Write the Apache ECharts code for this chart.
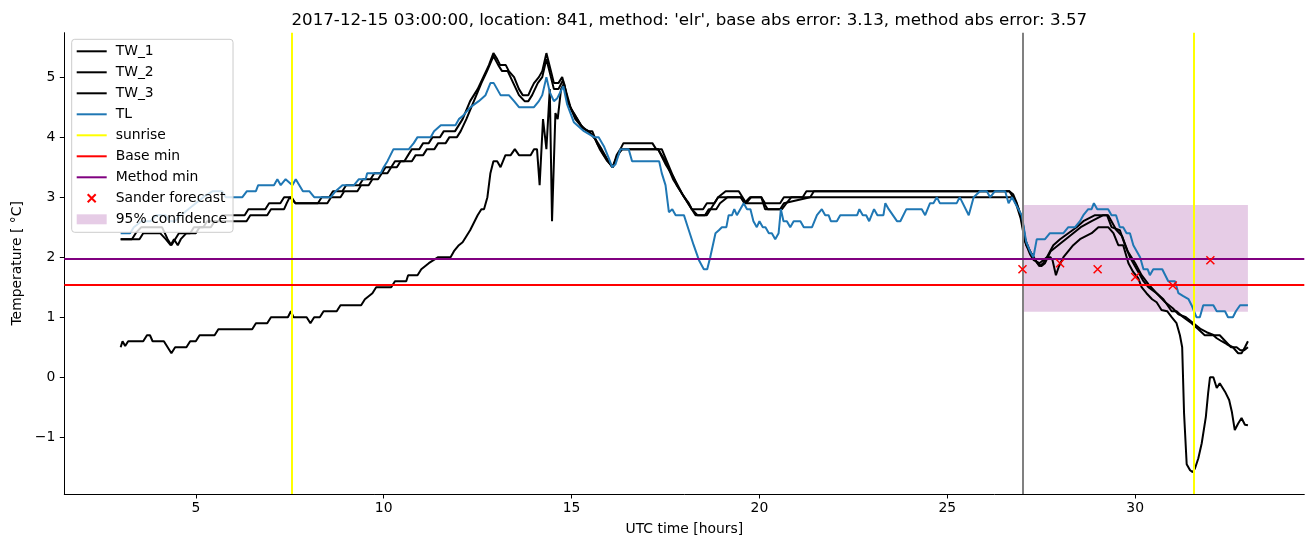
<!DOCTYPE html>
<html><head><meta charset="utf-8">
<script src="https://cdn.jsdelivr.net/npm/echarts@6/dist/echarts.min.js"></script>
<style>html,body{margin:0;padding:0;background:#fff}#c{width:1313px;height:547px}</style>
</head><body><div id="c"></div>
<script>
// ---------------- DATA ----------------
const tw1Hours = [3.0,3.3,3.4,3.55,4.1,4.25,4.35,4.45,4.55,4.85,4.95,5.2,5.3,5.6,5.7,6.3,6.4,6.85,6.95,7.25,7.35,7.55,7.65,8.25,8.35,8.55,8.65,8.9,9.0,9.35,9.45,9.65,9.75,9.95,10.05,10.2,10.3,10.55,10.65,10.75,10.95,11.05,11.2,11.3,11.5,11.6,11.9,12.0,12.1,12.3,12.5,12.65,12.8,12.92,13.02,13.1,13.25,13.33,13.47,13.6,13.7,13.85,13.92,14.0,14.13,14.22,14.33,14.45,14.53,14.65,14.75,14.88,14.97,15.06,15.25,15.42,15.55,15.68,15.86,16.03,16.1,16.2,16.3,16.38,17.15,17.25,17.4,17.6,17.8,18.0,18.12,18.2,18.5,18.6,18.8,18.9,19.1,19.45,19.55,19.65,19.78,20.05,20.15,20.55,20.65,21.15,21.25,26.65,26.75,26.85,26.95,27.07,27.2,27.34,27.45,27.55,27.65,27.82,28.0,28.22,28.44,28.62,28.93,29.25,29.37,29.59,29.73,29.86,30.04,30.22,30.35,30.57,30.75,30.97,31.1,31.28,31.5,31.68,31.85,32.08,32.17,32.3,32.44,32.6,32.74,32.83,32.92,33.0];
const tw1Temps = [2.3,2.3,2.4,2.5,2.5,2.3,2.2,2.3,2.4,2.4,2.5,2.5,2.6,2.6,2.7,2.7,2.8,2.8,2.9,2.9,3.0,3.0,2.9,2.9,3.0,3.0,3.1,3.1,3.2,3.2,3.3,3.3,3.4,3.4,3.5,3.5,3.6,3.6,3.7,3.8,3.8,3.9,3.9,4.0,4.0,4.1,4.1,4.2,4.3,4.6,4.8,5.0,5.2,5.4,5.3,5.2,5.2,5.1,5.0,4.8,4.7,4.7,4.8,4.9,5.0,5.1,5.4,5.1,4.9,4.9,5.0,4.7,4.5,4.4,4.2,4.1,4.1,3.9,3.7,3.55,3.5,3.7,3.8,3.9,3.9,3.8,3.8,3.5,3.2,3.0,2.9,2.8,2.8,2.9,2.9,3.0,3.1,3.1,3.0,2.9,3.0,3.0,2.9,2.9,3.0,3.0,3.1,3.1,3.05,2.9,2.7,2.3,2.1,1.95,1.85,1.9,2.0,2.2,2.3,2.4,2.5,2.6,2.7,2.7,2.5,2.45,2.2,2.0,1.8,1.6,1.5,1.4,1.3,1.1,1.1,1.0,0.9,0.8,0.7,0.7,0.65,0.6,0.55,0.5,0.4,0.4,0.5,0.6];

const tw2Hours = [3.0,3.5,3.6,4.05,4.2,4.33,4.42,4.52,4.6,4.75,5.0,5.1,5.4,5.5,6.35,6.45,6.9,7.0,7.35,7.42,7.5,7.55,7.65,8.5,8.6,8.85,8.95,9.3,9.4,9.6,9.7,9.85,9.95,10.1,10.2,10.35,10.45,10.75,10.85,11.05,11.15,11.35,11.45,11.65,11.75,11.95,12.05,12.2,12.4,12.6,12.75,12.92,13.05,13.15,13.3,13.45,13.6,13.75,13.85,13.95,14.1,14.22,14.33,14.45,14.53,14.65,14.77,14.9,15.0,15.1,15.3,15.45,15.6,15.75,15.95,16.1,16.22,16.35,17.3,17.5,17.7,17.9,18.1,18.2,18.3,18.55,18.65,18.85,18.95,19.15,19.5,19.62,20.12,20.22,20.6,20.72,20.85,26.7,26.8,26.9,27.0,27.1,27.25,27.4,27.5,27.6,27.75,27.95,28.15,28.35,28.55,28.84,29.15,29.28,29.5,29.65,29.8,30.0,30.17,30.35,30.57,30.8,31.0,31.15,31.35,31.55,31.75,31.9,32.1,32.25,32.4,32.55,32.7,32.8,32.9,33.0];
const tw2Temps = [2.3,2.3,2.4,2.4,2.3,2.2,2.3,2.2,2.3,2.4,2.4,2.5,2.5,2.6,2.6,2.7,2.7,2.8,2.8,2.9,3.0,3.0,2.9,2.9,3.0,3.0,3.1,3.1,3.2,3.2,3.3,3.3,3.4,3.4,3.5,3.5,3.6,3.6,3.7,3.7,3.8,3.8,3.9,3.9,4.0,4.0,4.1,4.3,4.6,4.9,5.1,5.35,5.2,5.1,5.1,4.9,4.7,4.6,4.6,4.7,4.9,5.0,5.3,5.0,4.8,4.8,4.95,4.6,4.45,4.35,4.15,4.1,4.0,3.8,3.6,3.5,3.7,3.8,3.8,3.6,3.3,3.1,2.9,2.8,2.7,2.7,2.8,2.8,2.9,3.0,3.0,2.9,2.9,2.8,2.8,2.9,3.0,3.0,2.95,2.8,2.6,2.2,2.05,1.9,1.85,1.9,2.1,2.2,2.3,2.4,2.5,2.6,2.7,2.7,2.45,2.35,2.1,1.9,1.7,1.55,1.4,1.25,1.15,1.05,1.0,0.9,0.8,0.75,0.7,0.7,0.6,0.5,0.5,0.45,0.45,0.5];

const tw3Hours = [3.0,3.05,3.12,3.2,3.6,3.7,3.78,3.85,4.15,4.35,4.45,4.75,4.85,5.0,5.1,5.5,5.6,6.5,6.6,6.9,7.0,7.45,7.53,7.6,7.95,8.05,8.15,8.3,8.4,8.75,8.85,9.4,9.5,9.6,9.7,9.8,10.2,10.3,10.6,10.65,10.9,11.0,11.1,11.2,11.45,11.78,11.87,12.0,12.1,12.3,12.5,12.6,12.67,12.76,12.84,12.92,13.02,13.11,13.24,13.38,13.49,13.6,13.91,14.0,14.08,14.15,14.24,14.33,14.42,14.48,14.57,14.63,14.72,14.8,14.9,15.0,15.1,15.3,15.45,15.65,15.8,15.98,16.08,16.2,16.32,17.3,17.5,17.7,17.95,18.1,18.2,18.35,18.6,18.7,18.9,19.5,19.6,19.75,20.05,20.15,20.55,20.65,21.35,21.45,26.65,26.75,26.85,26.95,27.07,27.2,27.3,27.45,27.55,27.65,27.74,27.8,27.89,27.97,28.09,28.22,28.35,28.53,28.84,29.02,29.28,29.42,29.55,29.68,29.82,29.95,30.08,30.17,30.3,30.45,30.57,30.7,30.85,30.97,31.1,31.19,31.25,31.3,31.37,31.46,31.53,31.59,31.68,31.77,31.88,31.94,31.99,32.08,32.17,32.25,32.39,32.5,32.57,32.65,32.74,32.83,32.92,33.0];
const tw3Temps = [0.5,0.6,0.52,0.6,0.6,0.7,0.7,0.6,0.6,0.4,0.5,0.5,0.6,0.6,0.7,0.7,0.8,0.8,0.9,0.9,1.0,1.0,1.1,1.0,1.0,0.9,1.0,1.0,1.1,1.1,1.2,1.2,1.3,1.35,1.4,1.5,1.5,1.6,1.6,1.7,1.7,1.8,1.85,1.9,2.0,2.0,2.1,2.2,2.25,2.45,2.7,2.8,2.8,3.0,3.4,3.6,3.6,3.5,3.7,3.7,3.8,3.7,3.7,3.8,3.8,3.2,4.3,3.8,4.8,2.6,4.4,4.3,4.8,4.9,4.6,4.45,4.3,4.15,4.1,3.95,3.8,3.6,3.5,3.65,3.8,3.8,3.55,3.35,3.05,2.9,2.8,2.7,2.7,2.8,3.0,3.0,2.9,3.0,3.0,2.8,2.8,2.9,3.0,3.1,3.1,3.0,2.85,2.65,2.25,2.05,1.95,1.9,1.95,2.0,2.0,1.95,1.7,1.85,2.0,2.1,2.2,2.3,2.4,2.5,2.5,2.4,2.2,2.2,1.9,1.75,1.65,1.5,1.4,1.3,1.25,1.12,1.1,1.0,0.9,0.7,0.5,-0.6,-1.45,-1.55,-1.58,-1.52,-1.35,-1.1,-0.66,-0.27,0.0,0.0,-0.18,-0.1,-0.24,-0.38,-0.57,-0.88,-0.77,-0.68,-0.79,-0.8];

const tlHours = [3.0,3.25,3.35,3.55,3.8,3.95,4.2,4.3,4.45,4.6,4.8,5.0,5.2,5.45,5.7,5.8,6.24,6.36,6.6,6.66,7.08,7.17,7.26,7.39,7.48,7.57,7.66,7.85,8.02,8.15,8.59,8.72,8.9,9.21,9.34,9.52,9.56,9.92,10.0,10.1,10.26,10.67,10.8,10.9,11.25,11.34,11.52,11.91,12.0,12.1,12.31,12.53,12.71,12.76,12.84,12.93,13.02,13.11,13.33,13.47,13.6,14.0,14.13,14.22,14.33,14.42,14.53,14.62,14.78,14.88,14.97,15.06,15.15,15.33,15.6,15.72,15.86,15.99,16.08,16.17,16.3,16.39,16.52,16.61,17.33,17.4,17.5,17.59,17.68,17.77,17.99,18.12,18.25,18.39,18.52,18.61,18.69,18.83,18.92,19.0,19.12,19.18,19.27,19.33,19.4,19.49,19.58,19.67,19.76,19.84,19.93,20.0,20.09,20.16,20.25,20.33,20.42,20.51,20.57,20.64,20.73,20.82,20.91,21.09,21.18,21.4,21.53,21.66,21.75,21.84,21.9,22.06,22.15,22.6,22.66,22.75,22.84,22.92,23.05,23.14,23.3,23.35,23.44,23.66,23.75,23.91,24.32,24.41,24.54,24.63,24.72,24.8,25.25,25.33,25.57,25.7,25.87,26.05,26.14,26.27,26.54,26.63,26.72,26.85,26.98,27.1,27.2,27.29,27.38,27.6,27.73,28.09,28.22,28.4,28.53,28.62,28.75,28.84,28.9,28.99,29.28,29.37,29.49,29.59,29.68,29.77,29.86,29.95,30.04,30.13,30.22,30.33,30.39,30.48,30.72,30.8,30.88,31.06,31.15,31.28,31.42,31.5,31.63,31.72,31.81,32.08,32.17,32.39,32.47,32.6,32.68,32.79,33.0];
const tlTemps = [2.4,2.4,2.5,2.6,2.6,2.7,2.7,2.6,2.6,2.7,2.8,2.9,3.0,3.1,3.1,3.0,3.0,3.1,3.1,3.2,3.2,3.3,3.2,3.3,3.25,3.2,3.3,3.1,3.1,3.0,3.0,3.1,3.2,3.2,3.3,3.3,3.4,3.4,3.5,3.6,3.8,3.8,3.9,4.0,4.0,4.1,4.2,4.2,4.3,4.35,4.5,4.6,4.7,4.7,4.9,4.9,4.8,4.7,4.7,4.6,4.5,4.5,4.6,4.7,5.0,4.75,4.6,4.65,4.85,4.55,4.4,4.25,4.2,4.1,4.0,4.0,3.85,3.65,3.5,3.55,3.8,3.8,3.8,3.6,3.6,3.4,3.2,2.75,2.8,2.7,2.7,2.45,2.2,1.95,1.8,1.8,2.0,2.4,2.45,2.5,2.5,2.7,2.7,2.8,2.7,2.8,2.9,2.8,2.8,2.6,2.5,2.6,2.5,2.5,2.4,2.4,2.3,2.4,2.8,2.6,2.6,2.5,2.6,2.6,2.5,2.5,2.7,2.8,2.7,2.7,2.6,2.6,2.7,2.7,2.8,2.7,2.7,2.6,2.8,2.7,2.7,2.9,2.8,2.6,2.6,2.8,2.8,2.7,2.9,2.9,3.0,2.9,2.9,3.0,2.7,3.0,3.1,3.1,3.0,3.1,3.1,2.9,3.0,2.85,2.7,2.25,2.1,2.0,2.3,2.3,2.4,2.4,2.5,2.5,2.6,2.7,2.8,2.8,2.9,2.8,2.8,2.7,2.7,2.5,2.5,2.4,2.4,2.2,2.1,2.0,1.8,1.8,1.7,1.8,1.8,1.7,1.6,1.6,1.4,1.35,1.3,1.2,1.0,1.0,1.2,1.2,1.1,1.1,1.0,1.0,1.1,1.2,1.2];

const sunriseHours = [7.56, 31.56];
const forecastStartHour = 27;
const baseMin = 1.54;
const methodMin = 1.97;
const forecastHours = [27, 28, 29, 30, 31, 32];
const forecastTemps = [1.80, 1.90, 1.80, 1.67, 1.53, 1.95];
const confidenceHours = [27, 33];
const confidenceTemps = [1.09, 2.87];
const xTicks = [5, 10, 15, 20, 25, 30];
const yTicks = [-1, 0, 1, 2, 3, 4, 5];
const titleText = "2017-12-15 03:00:00, location: 841, method: 'elr', base abs error: 3.13, method abs error: 3.57";

// ---------------- CHART ----------------
const pairs = (h, t) => h.map((x, i) => [x, t[i]]);
const FONT = 'DejaVu Sans';
const FS = 13.9;
const chart = echarts.init(document.getElementById('c'), null, {renderer: 'canvas'});
const lineS = (name, h, t, color) => ({
  name, type: 'line', data: pairs(h, t), symbol: 'none', showSymbol: false,
  lineStyle: {color, width: 2}, itemStyle: {color}, z: 3, animation: false,
  emphasis: {disabled: true}
});
const hideSym = {opacity: 0};
const xIcon = 'path://M-10,-1M0,0L8,8M8,0L0,8M18,9';
const option = {
  animation: false,
  backgroundColor: '#fff',
  title: {
    text: titleText, left: 684.3, top: 7, textAlign: 'center',
    textStyle: {fontFamily: FONT, fontSize: 16.7, fontWeight: 'normal', color: '#000'}
  },
  grid: {left: 64.3, right: 8.7, top: 32.7, bottom: 53, containLabel: false},
  xAxis: {
    type: 'value', min: 1.5, max: 34.5,
    name: 'UTC time [hours]', nameLocation: 'middle', nameGap: 28,
    nameTextStyle: {fontFamily: FONT, fontSize: FS, color: '#000'},
    axisLine: {onZero: false, lineStyle: {color: '#000', width: 1}},
    axisTick: {show: true, length: 4.5, lineStyle: {color: '#000'}, customValues: xTicks},
    axisLabel: {fontFamily: FONT, fontSize: FS, color: '#000', margin: 7, customValues: xTicks},
    splitLine: {show: false}
  },
  yAxis: {
    type: 'value', min: -1.945, max: 5.74,
    name: 'Temperature [ °C]', nameLocation: 'middle', nameGap: 40, nameRotate: 90,
    nameTextStyle: {fontFamily: FONT, fontSize: FS, color: '#000'},
    axisLine: {onZero: false, lineStyle: {color: '#000', width: 1}},
    axisTick: {show: true, length: 4.5, lineStyle: {color: '#000'}, customValues: yTicks},
    axisLabel: {fontFamily: FONT, fontSize: FS, color: '#000', margin: 9, customValues: yTicks,
      formatter: v => String(v).replace('-', '\u2212')},
    splitLine: {show: false}
  },
  legend: {
    orient: 'vertical', left: 71.7, top: 39.3,
    padding: [5, 6, 6, 4],
    itemWidth: 30, itemHeight: 10, itemGap: 7,
    backgroundColor: 'rgba(255,255,255,0.8)', borderColor: '#cccccc', borderWidth: 1, borderRadius: 3,
    textStyle: {fontFamily: FONT, fontSize: FS, color: '#000', lineHeight: 14, padding: [0,0,0,4]},
    data: [
      {name: 'TW_1', itemStyle: hideSym}, {name: 'TW_2', itemStyle: hideSym},
      {name: 'TW_3', itemStyle: hideSym}, {name: 'TL', itemStyle: hideSym},
      {name: 'sunrise', itemStyle: hideSym}, {name: 'Base min', itemStyle: hideSym},
      {name: 'Method min', itemStyle: hideSym},
      {name: 'Sander forecast', icon: xIcon},
      {name: '95% confidence', icon: 'rect'}
    ],
    selectedMode: false, z: 10
  },
  series: [
    {
      name: '95% confidence', type: 'line', data: [], symbol: 'none', z: 1,
      itemStyle: {color: 'rgba(128,0,128,0.2)'}, lineStyle: {color: 'rgba(128,0,128,0.2)'},
      markArea: {silent: true, itemStyle: {color: 'rgba(128,0,128,0.2)'}, label: {show: false},
        data: [[{coord: [confidenceHours[0], confidenceTemps[0]]}, {coord: [confidenceHours[1], confidenceTemps[1]]}]]}
    },
    {
      name: 'forecast start', type: 'line', data: [], symbol: 'none', z: 2,
      markLine: {silent: true, symbol: 'none', label: {show: false},
        lineStyle: {color: '#808080', width: 2, type: 'solid'}, data: [{xAxis: forecastStartHour}]}
    },
    lineS('TW_1', tw1Hours, tw1Temps, '#000000'),
    lineS('TW_2', tw2Hours, tw2Temps, '#000000'),
    lineS('TW_3', tw3Hours, tw3Temps, '#000000'),
    lineS('TL', tlHours, tlTemps, '#1f77b4'),
    {
      name: 'sunrise', type: 'line', data: [], symbol: 'none', z: 4,
      lineStyle: {color: '#ffff00', width: 2}, itemStyle: {color: '#ffff00'},
      markLine: {silent: true, symbol: 'none', label: {show: false},
        lineStyle: {color: '#ffff00', width: 2, type: 'solid'}, data: sunriseHours.map(h => ({xAxis: h}))}
    },
    {
      name: 'Base min', type: 'line', data: [], symbol: 'none', z: 4,
      lineStyle: {color: '#ff0000', width: 2}, itemStyle: {color: '#ff0000'},
      markLine: {silent: true, symbol: 'none', label: {show: false},
        lineStyle: {color: '#ff0000', width: 2, type: 'solid'}, data: [{yAxis: baseMin}]}
    },
    {
      name: 'Method min', type: 'line', data: [], symbol: 'none', z: 4,
      lineStyle: {color: '#800080', width: 2}, itemStyle: {color: '#800080'},
      markLine: {silent: true, symbol: 'none', label: {show: false},
        lineStyle: {color: '#800080', width: 2, type: 'solid'}, data: [{yAxis: methodMin}]}
    },
    {
      name: 'Sander forecast', type: 'scatter', data: pairs(forecastHours, forecastTemps), z: 5,
      symbol: 'path://M0,0L10,10M10,0L0,10', symbolSize: 8,
      itemStyle: {color: 'rgba(0,0,0,0)', borderColor: '#ff0000', borderWidth: 1.5, opacity: 1},
      emphasis: {disabled: true}
    }
  ]
};
chart.setOption(option);
</script></body></html>
